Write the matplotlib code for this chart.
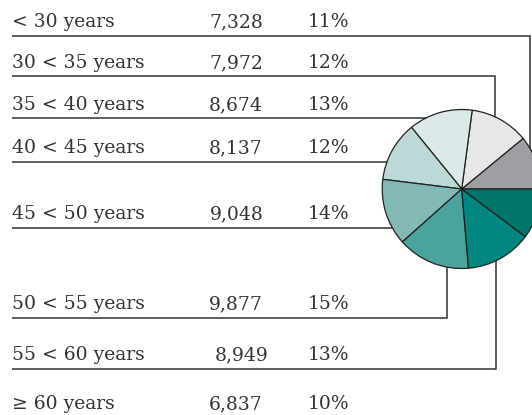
import matplotlib
matplotlib.use("Agg")
import matplotlib.pyplot as plt

# data
groups = ["< 30 years", "30 < 35 years", "35 < 40 years", "40 < 45 years",
          "45 < 50 years", "50 < 55 years", "55 < 60 years", "\u2265 60 years"]
counts = [7328, 7972, 8674, 8137, 9048, 9877, 8949, 6837]
shares = ["11%", "12%", "13%", "12%", "14%", "15%", "13%", "10%"]

colors = ["#9d9fa2", "#e6e7e9", "#dbe9e8", "#bcd9d8",
          "#82b9b7", "#4ba39e", "#00877f", "#00756c"]

# layout (pixel coords, y down)
baselines = [27, 68, 110, 153, 219, 309, 360, 409]
underline_y = [35.7, 76.3, 118.3, 161.7, 227.7, 318.3, 369.0, None]
count_x = [209, 209, 209, 209, 210, 209, 215, 209]
cx, cy, r = 461.7, 189.0, 79.5
# leader lines: corner x (cx = straight into the pie)
leader_x = [530, 494.7, cx, cx, cx, 446.7, 496.0, None]

txt_color = "#333333"
line_color = "#333333"

fig = plt.figure(figsize=(5.32, 4.15), dpi=100)
ax = fig.add_axes([0, 0, 1, 1])

font = dict(family="DejaVu Serif", size=13.5, color=txt_color, va="baseline")

for i, g in enumerate(groups):
    ax.text(12, baselines[i], g, ha="left", **font)
    ax.text(count_x[i], baselines[i], f"{counts[i]:,}", ha="left", **font)
    ax.text(308, baselines[i], shares[i], ha="left", **font)
    y = underline_y[i]
    if y is None:
        continue
    x_end = leader_x[i]
    if x_end == cx:
        ax.plot([12, cx], [y, y], color=line_color, lw=1.1, zorder=1,
                solid_capstyle="butt")
    else:
        ax.plot([12, x_end, x_end], [y, y, cy], color=line_color, lw=1.1,
                zorder=1, solid_joinstyle="miter", solid_capstyle="butt")

# y axis is flipped, so counterclock=False runs anticlockwise on screen
ax.pie(counts, colors=colors, startangle=0, counterclock=False,
       center=(cx, cy), radius=r, frame=True,
       wedgeprops=dict(edgecolor="#222222", linewidth=0.9, zorder=2))
ax.set_xlim(0, 532)
ax.set_ylim(415, 0)
ax.set_aspect("equal")
ax.axis("off")

fig.savefig("out.png", dpi=100)
